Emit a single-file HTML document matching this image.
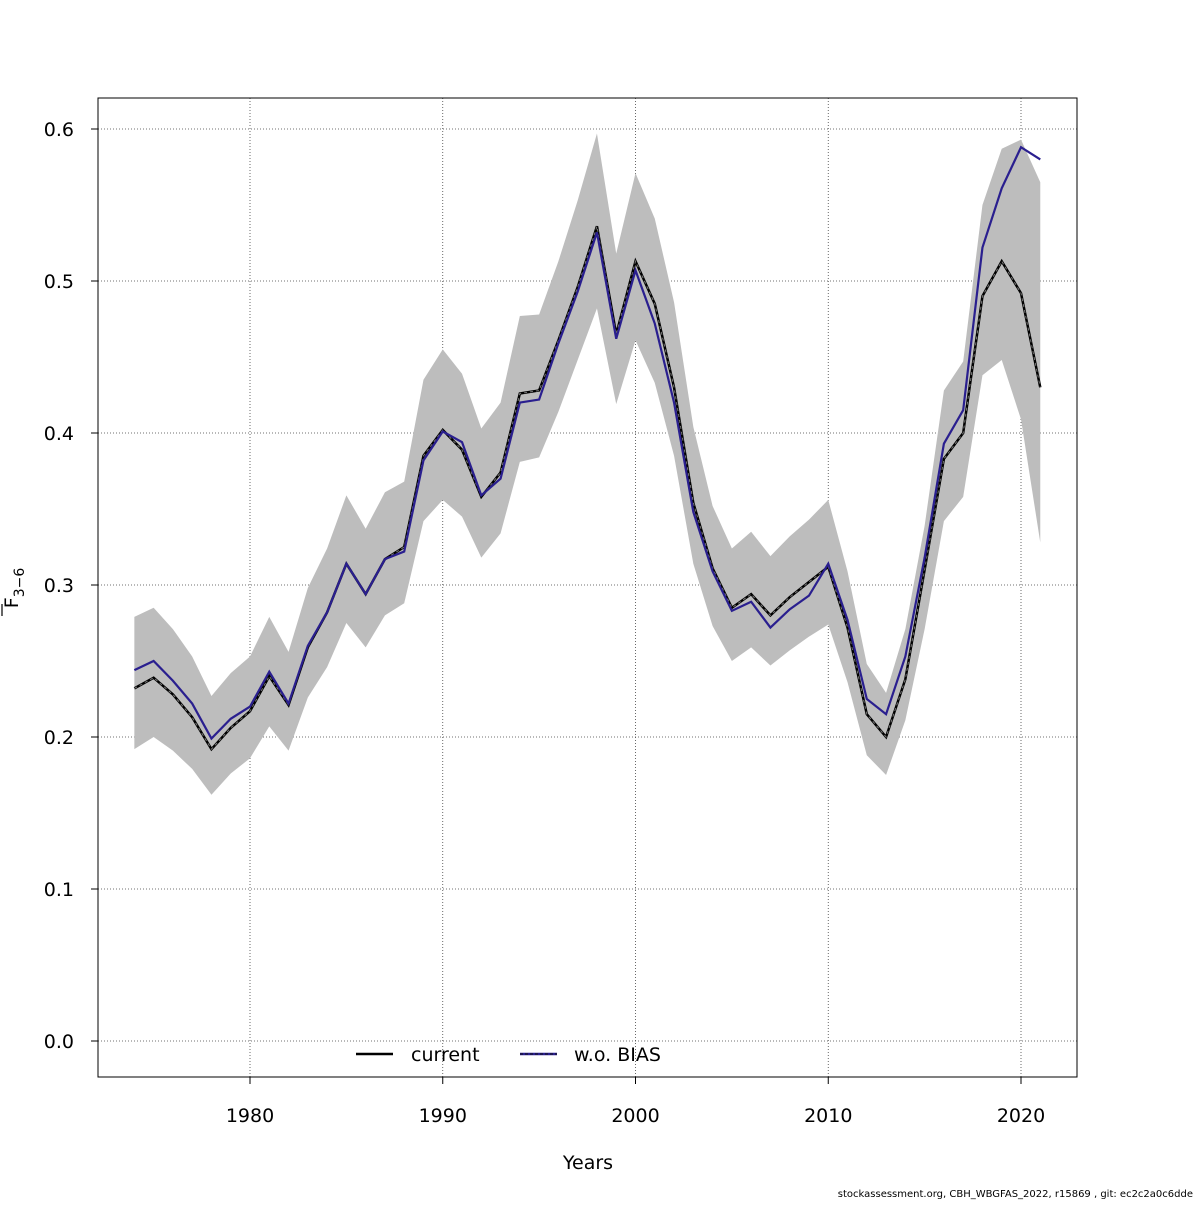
<!DOCTYPE html>
<html><head><meta charset="utf-8"><style>
body{margin:0;background:#fff}
svg text{font-family:"DejaVu Sans","Liberation Sans",sans-serif}
</style></head><body>
<svg id="chart" width="1200" height="1200" viewBox="0 0 1200 1200" xmlns="http://www.w3.org/2000/svg">
<rect width="1200" height="1200" fill="#fff"/>
<g id="grid"></g>
<g id="band"></g>
<g id="lines"></g>
<rect x="98" y="98" width="979" height="979" fill="none" stroke="#000" stroke-width="1"/>
<g id="axes"></g>
<text x="588" y="1169" font-size="19" text-anchor="middle">Years</text>
<g transform="translate(18,588) rotate(-90)">
<text x="0" y="0" font-size="19" text-anchor="middle">F<tspan font-size="14" dy="6">3−6</tspan></text>
<line x1="-28" y1="-16" x2="-16" y2="-16" stroke="#000" stroke-width="1.2"/>
</g>
<g>
<line x1="356" y1="1054" x2="393" y2="1054" stroke="#000" stroke-width="2.5"/>
<text x="411" y="1061" font-size="19">current</text>
<line x1="520" y1="1054" x2="557" y2="1054" stroke="#2a1f8f" stroke-width="2.5"/>
<line x1="520" y1="1054" x2="557" y2="1054" stroke="#111" stroke-width="1" stroke-dasharray="3,2"/>
<text x="574" y="1061" font-size="19">w.o. BIAS</text>
</g>
<text x="1193" y="1197" font-size="10" text-anchor="end">stockassessment.org, CBH_WBGFAS_2022, r15869 , git: ec2c2a0c6dde</text>
</svg>
<script>
const years=[];for(let y=1974;y<=2021;y++)years.push(y);
const current=[0.232,0.239,0.228,0.213,0.192,0.206,0.217,0.240,0.221,0.259,0.282,0.314,0.294,0.317,0.325,0.385,0.402,0.389,0.358,0.374,0.426,0.428,0.461,0.496,0.536,0.465,0.513,0.485,0.430,0.354,0.311,0.285,0.294,0.280,0.292,0.302,0.312,0.272,0.215,0.200,0.238,0.310,0.383,0.400,0.490,0.513,0.492,0.430];
const woBias=[0.244,0.250,0.237,0.222,0.199,0.212,0.220,0.243,0.222,0.260,0.282,0.314,0.294,0.317,0.322,0.382,0.401,0.394,0.359,0.370,0.420,0.422,0.459,0.493,0.532,0.462,0.507,0.472,0.420,0.348,0.309,0.283,0.289,0.272,0.284,0.293,0.314,0.277,0.225,0.215,0.253,0.318,0.393,0.415,0.522,0.561,0.588,0.580];
const upper=[0.279,0.285,0.271,0.253,0.227,0.242,0.253,0.279,0.256,0.298,0.324,0.359,0.337,0.361,0.368,0.435,0.455,0.439,0.403,0.420,0.477,0.478,0.513,0.553,0.597,0.518,0.571,0.541,0.486,0.404,0.352,0.324,0.335,0.319,0.332,0.343,0.356,0.309,0.248,0.229,0.271,0.339,0.428,0.447,0.550,0.587,0.593,0.565];
const lower=[0.192,0.200,0.191,0.179,0.162,0.176,0.186,0.207,0.191,0.226,0.246,0.275,0.259,0.280,0.288,0.342,0.356,0.345,0.318,0.334,0.381,0.384,0.414,0.448,0.482,0.419,0.461,0.433,0.385,0.314,0.273,0.250,0.259,0.247,0.257,0.266,0.274,0.236,0.188,0.175,0.211,0.271,0.342,0.358,0.438,0.448,0.409,0.328];
const xTicks=[1980,1990,2000,2010,2020];
const yTicks=[0.0,0.1,0.2,0.3,0.4,0.5,0.6];
const yTickLabels=["0.0","0.1","0.2","0.3","0.4","0.5","0.6"];
const NS="http://www.w3.org/2000/svg";
const X=y=>250+(y-1980)*19.275;
const Y=v=>1041-v*1520;
function mk(tag,attrs,parent){const e=document.createElementNS(NS,tag);for(const k in attrs)e.setAttribute(k,attrs[k]);parent.appendChild(e);return e;}
const grid=document.getElementById('grid'),axes=document.getElementById('axes');
xTicks.forEach(t=>{
 const l=mk('line',{x1:X(t),x2:X(t),y1:98,y2:1077,stroke:'#444','stroke-width':0.8,'stroke-dasharray':'1,2'},grid);
 
 
 mk('line',{x1:X(t),x2:X(t),y1:1077,y2:1084,stroke:'#000'},axes);
 const tx=mk('text',{x:X(t),y:1122,'font-size':19,'text-anchor':'middle'},axes);tx.textContent=t;
 
 
});
yTicks.forEach((t,i)=>{
 const l=mk('line',{x1:98,x2:1077,y1:Y(t),y2:Y(t),stroke:'#444','stroke-width':0.8,'stroke-dasharray':'1,2'},grid);
 
 
 mk('line',{x1:91,x2:98,y1:Y(t),y2:Y(t),stroke:'#000'},axes);
 const tx=mk('text',{x:74,y:Y(t)+7,'font-size':19,'text-anchor':'end'},axes);tx.textContent=yTickLabels[i];
 
 
});
let d='M'+years.map((y,i)=>X(y)+','+Y(upper[i])).join('L');
for(let i=years.length-1;i>=0;i--)d+='L'+X(years[i])+','+Y(lower[i]);
const band=mk('path',{d:d+'Z',fill:'#bdbdbd'},document.getElementById('band'));


const lines=document.getElementById('lines');
const pts=a=>years.map((y,i)=>X(y)+','+Y(a[i])).join(' ');
const c1=mk('polyline',{points:pts(current),fill:'none',stroke:'#000','stroke-width':2.5},lines);


mk('polyline',{points:pts(current),fill:'none',stroke:'#777','stroke-width':1,'stroke-dasharray':'3,3'},lines);
const b1=mk('polyline',{points:pts(woBias),fill:'none',stroke:'#2a1f8f','stroke-width':2.2},lines);


</script>
</body></html>
